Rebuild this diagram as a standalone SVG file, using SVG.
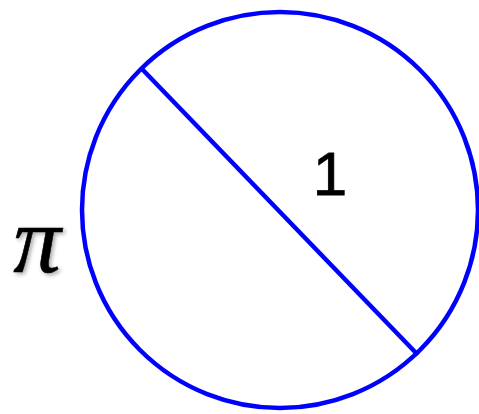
<svg xmlns="http://www.w3.org/2000/svg" width="479" height="414" viewBox="0 0 479 414">
<defs>
<filter id="sh" x="-30%" y="-30%" width="160%" height="160%">
<feGaussianBlur in="SourceAlpha" stdDeviation="2"/>
<feOffset dx="2" dy="2" result="b"/>
<feComponentTransfer><feFuncA type="linear" slope="0.35"/></feComponentTransfer>
<feMerge><feMergeNode/><feMergeNode in="SourceGraphic"/></feMerge>
</filter>
</defs>
<style>
.shape{fill:none;stroke:#0000ff;stroke-width:4.5}
.lbl{font-family:"Liberation Sans",Arial,sans-serif;fill:#000}
.pi{font-family:"Liberation Serif","Times New Roman",serif;font-style:italic;fill:#000;stroke:#000;stroke-width:0.6}
</style>
<g id="circle">
<circle class="shape" cx="280" cy="210" r="198"/>
</g>
<g id="connectors">
<line class="shape" x1="142" y1="69" x2="418" y2="355"/>
</g>
<g id="label-1">
<text class="lbl" x="330" y="195" font-size="62" text-anchor="middle" stroke="#000" stroke-width="0.8">1</text>
</g>
<g id="label-pi">
<text class="pi" x="37" y="272" font-size="95" text-anchor="middle" filter="url(#sh)">π</text>
</g>
</svg>
